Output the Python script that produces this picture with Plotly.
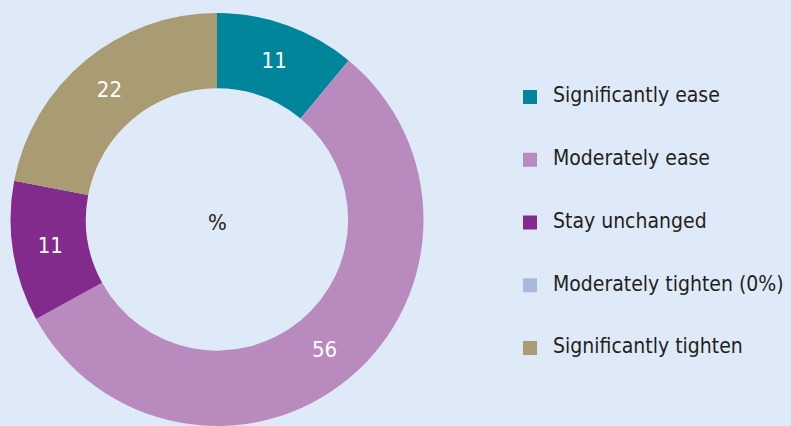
import plotly.graph_objects as go

categories = ["Significantly ease", "Moderately ease", "Stay unchanged",
              "Moderately tighten (0%)", "Significantly tighten"]
values = [11, 56, 11, 0, 22]
colors = ["#00859a", "#b98abe", "#832a8d", "#a9b9de", "#a99b72"]
center_label = "%"

W, H = 791, 426
BG = "#dfeaf8"
FONT = "DejaVu Sans Condensed, Liberation Sans Narrow, sans-serif"

slice_text = [str(v) if v > 0 else "" for v in values]

fig = go.Figure()
fig.add_trace(go.Pie(
    labels=categories, values=values, text=slice_text,
    textinfo="text", hoverinfo="label+value",
    sort=False, direction="clockwise", rotation=0,
    hole=0.635,
    marker=dict(colors=colors, line=dict(width=0)),
    textposition="inside", insidetextorientation="horizontal",
    textfont=dict(family=FONT, size=22, color="white"),
    domain=dict(x=[10.5 / W, 423.5 / W], y=[0, 1 - 13 / H]),
    showlegend=False,
))

# manual legend drawn with a scatter trace on hidden axes
idx = list(range(len(categories)))
fig.add_trace(go.Scatter(
    x=[530] * len(categories), y=idx, mode="markers",
    marker=dict(symbol="square", size=14, color=colors, line=dict(width=0)),
    hoverinfo="skip", showlegend=False,
))
fig.add_trace(go.Scatter(
    x=[553] * len(categories), y=idx, mode="text", text=categories,
    textposition="middle right",
    textfont=dict(family=FONT, size=21, color="#231f20"),
    hoverinfo="skip", showlegend=False,
))

first, step = 97, 62.75
fig.update_layout(
    width=W, height=H,
    margin=dict(l=0, r=0, t=0, b=0),
    paper_bgcolor=BG, plot_bgcolor="rgba(0,0,0,0)",
    xaxis=dict(range=[0, W], visible=False, fixedrange=True),
    yaxis=dict(range=[(H - first) / step, -first / step], visible=False, fixedrange=True),
    annotations=[dict(text=center_label, x=217 / W, y=1 - 222 / H, xref="paper", yref="paper",
                      xanchor="center", yanchor="middle",
                      showarrow=False, font=dict(family=FONT, size=22, color="#231f20"))],
)

fig.write_html("out.html", config={"displayModeBar": False},
               post_script="document.body.style.margin='0';document.body.style.background='" + BG + "';")
